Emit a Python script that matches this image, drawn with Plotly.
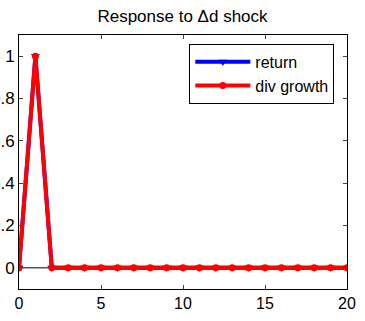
import plotly.graph_objects as go

horizon = list(range(21))
ret = [0, 1] + [0] * 19
div_growth = [0, 1] + [0] * 19
x_ticks = [0, 5, 10, 15, 20]
y_ticks = [0, 0.2, 0.4, 0.6, 0.8, 1]
y_labels = ["0", "0.2", "0.4", "0.6", "0.8", "1"]

fig = go.Figure()
fig.add_trace(go.Scatter(x=horizon, y=ret, mode="lines+markers", name="return",
                         line=dict(color="#0000ff", width=4),
                         marker=dict(symbol="triangle-down", size=8, color="#0000ff")))
fig.add_trace(go.Scatter(x=horizon, y=div_growth, mode="lines+markers", name="div growth",
                         line=dict(color="#ff0000", width=4),
                         marker=dict(symbol="circle", size=7, color="#ff0000")))
fig.add_hline(y=0, line=dict(color="black", width=1), layer="below")

fig.update_layout(
    width=365, height=321,
    margin=dict(l=19, r=9, t=35, b=29),
    paper_bgcolor="white", plot_bgcolor="white",
    font=dict(family="Liberation Sans, Arial", size=16, color="black"),
    title=dict(text="Response to Δd shock", x=0.5, xanchor="center", y=1 - 16/321, yanchor="middle",
               font=dict(size=17)),
    showlegend=True,
    hovermode=False,
    legend=dict(x=(194-19)/337, y=(292-44)/257, xanchor="left", yanchor="top",
                bordercolor="black", borderwidth=1, bgcolor="white",
                font=dict(size=16), tracegroupgap=0, itemwidth=55),
    xaxis=dict(range=[0, 20], tickvals=x_ticks, ticks="inside", ticklen=4,
               showline=True, linecolor="black", linewidth=1, mirror="ticks",
               showgrid=False, zeroline=False, tickfont=dict(size=16)),
    yaxis=dict(range=[-0.1, 1.1], tickvals=y_ticks, ticktext=y_labels, ticks="inside", ticklen=4,
               automargin=False, ticklabeloverflow="allow",
               showline=True, linecolor="black", linewidth=1, mirror="ticks",
               showgrid=False, zeroline=False, tickfont=dict(size=17)),
)

fig.write_html("out.html", config={"displayModeBar": False})
